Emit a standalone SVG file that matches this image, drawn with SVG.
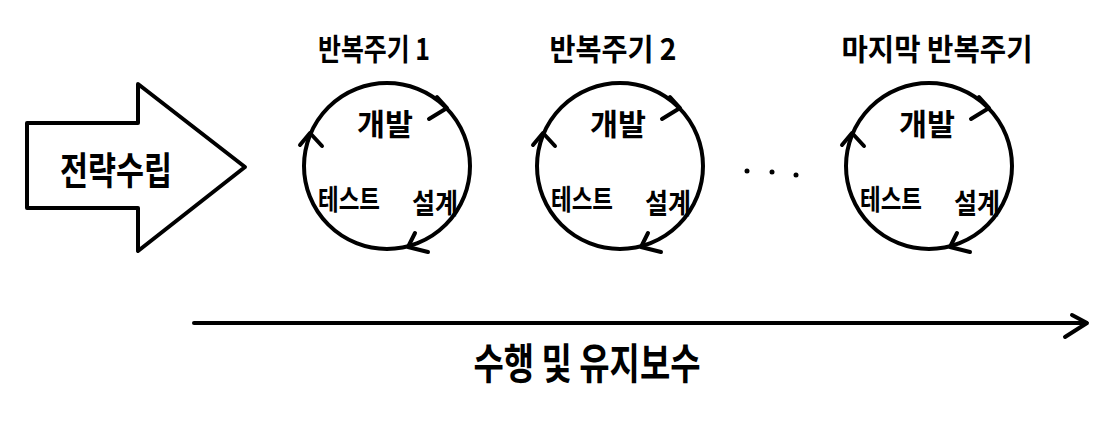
<svg xmlns="http://www.w3.org/2000/svg" width="1110" height="431" viewBox="0 0 1110 431">
<style>
.t{font-family:"Noto Sans CJK KR","Noto Sans",sans-serif;font-weight:700;fill:#000;text-anchor:middle}
.ln{fill:none;stroke:#000;stroke-width:4;stroke-linecap:round;stroke-linejoin:round}
.dot{fill:#000}
</style>
<defs>
<g id="cyc">
<circle class="ln" cx="0" cy="0" r="83"/>
<polyline class="ln" points="50,-69 60,-58 42,-47"/>
<polyline class="ln" points="-87,-21 -77,-33 -65,-20"/>
<polyline class="ln" points="28,67 21,81 41,86"/>
<text class="t" x="-2" y="-31" font-size="30" textLength="56" lengthAdjust="spacingAndGlyphs">개발</text>
<text class="t" x="-38" y="44" font-size="28" textLength="62" lengthAdjust="spacingAndGlyphs">테스트</text>
<text class="t" x="48" y="48" font-size="28" textLength="46" lengthAdjust="spacingAndGlyphs">설계</text>
</g>
</defs>
<rect width="1110" height="431" fill="#fff"/>
<g id="strategy">
<polygon class="ln" points="27,123 138,123 138,84 245,167 138,251 138,208 27,208"/>
<text class="t" x="116" y="184" font-size="38" textLength="112" lengthAdjust="spacingAndGlyphs">전략수립</text>
</g>
<g id="iter1">
<text class="t" x="374" y="60" font-size="30" textLength="112" lengthAdjust="spacingAndGlyphs">반복주기 1</text>
<use href="#cyc" x="387" y="166"/>
</g>
<g id="iter2">
<text class="t" x="613" y="60" font-size="30" textLength="127" lengthAdjust="spacingAndGlyphs">반복주기 2</text>
<use href="#cyc" x="620" y="166"/>
</g>
<g id="ellipsis">
<circle class="dot" cx="747" cy="171" r="2.5"/>
<circle class="dot" cx="772" cy="172" r="2.5"/>
<circle class="dot" cx="796" cy="175" r="2.5"/>
</g>
<g id="iterLast">
<text class="t" x="937" y="60" font-size="30" textLength="191" lengthAdjust="spacingAndGlyphs">마지막 반복주기</text>
<use href="#cyc" x="929" y="166"/>
</g>
<g id="connectors">
<line class="ln" x1="194" y1="323" x2="1086" y2="323"/>
<polyline class="ln" points="1072,315 1087,323 1065,337"/>
</g>
<g id="maintenance">
<text class="t" x="587" y="379" font-size="42" textLength="227" lengthAdjust="spacingAndGlyphs">수행 및 유지보수</text>
</g>
</svg>
